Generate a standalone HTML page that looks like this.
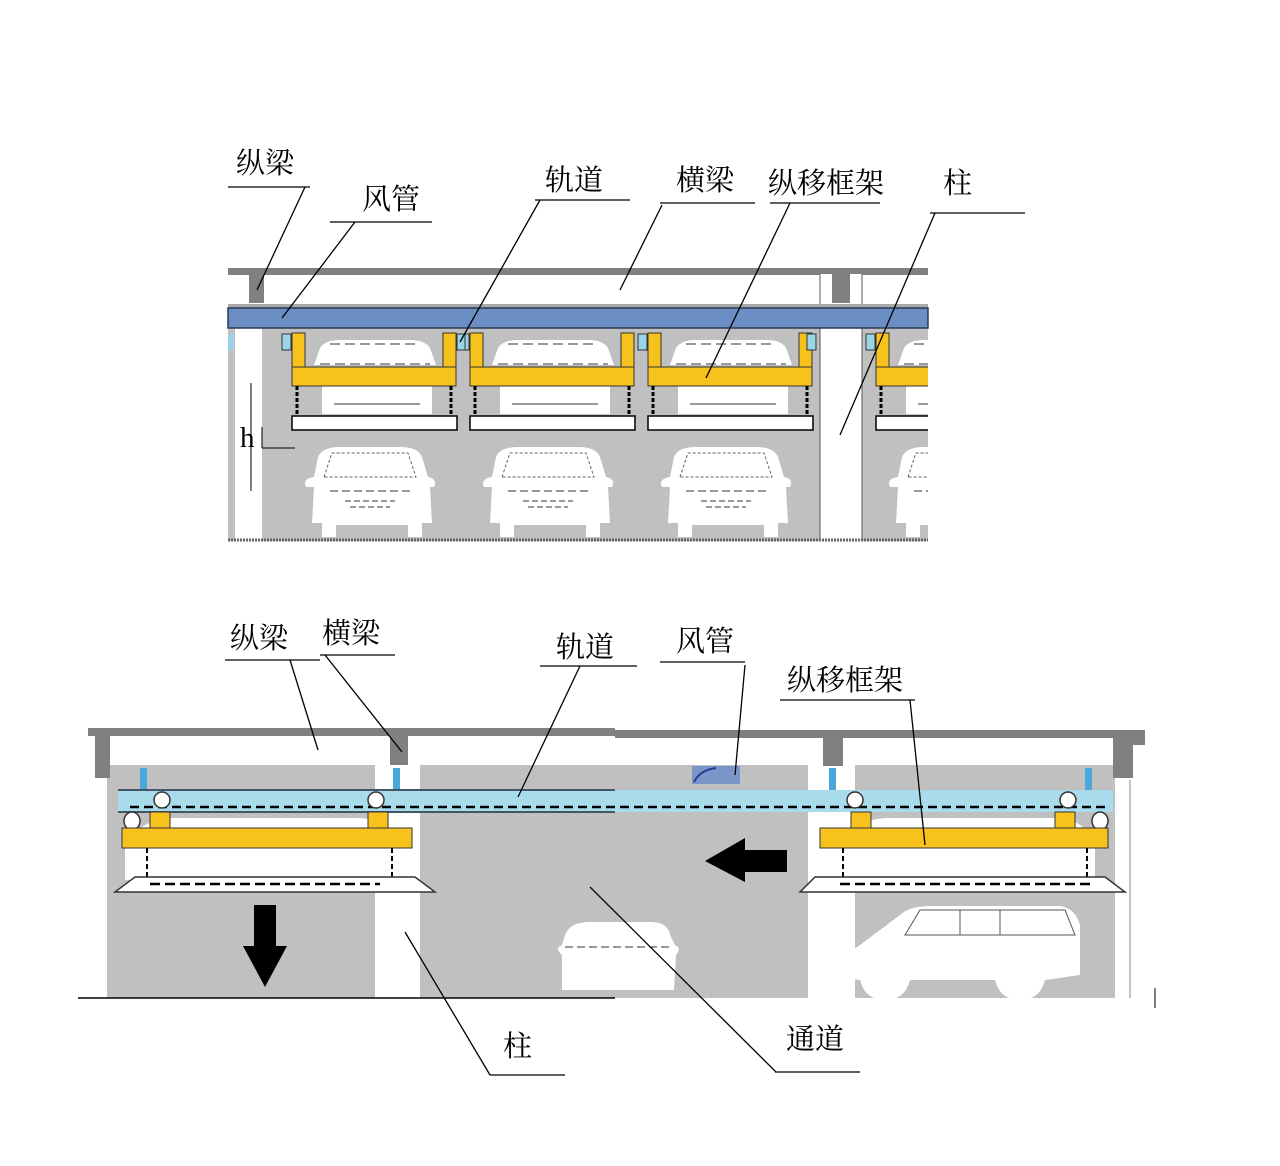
<!DOCTYPE html>
<html><head><meta charset="utf-8"><style>html,body{margin:0;padding:0;background:#fff}svg{display:block}
text{font-family:"Liberation Serif","Noto Serif CJK SC","Noto Sans CJK SC",serif;font-size:29px;fill:#000}</style></head>
<body>
<svg width="1280" height="1166" viewBox="0 0 1280 1166" xmlns="http://www.w3.org/2000/svg">
<defs>
<g id="carF">
<path d="M8,10 Q12,0 30,0 L90,0 Q108,0 112,10 L118,30 Q128,32 124,40 L120,40 L122,76 L112,76 L112,90 L98,90 L98,78 L26,78 L26,90 L12,90 L12,76 L2,76 L4,40 L-4,40 Q-8,32 4,30 Z" fill="#fff"/>
<path d="M14,30 L22,6 L98,6 L106,30 Z" fill="none" stroke="#666" stroke-width="1" stroke-dasharray="3,2"/>
<path d="M20,44 L100,44" stroke="#333" stroke-dasharray="8,4"/>
<path d="M35,54 L85,54 M40,60 L80,60" stroke="#333" stroke-dasharray="6,3"/>
</g>
<g id="carR">
<path d="M10,8 Q15,0 30,0 L100,0 Q115,0 120,8 L126,25 L4,25 Z" fill="#fff"/>
<path d="M20,4 L110,4" stroke="#333" stroke-dasharray="10,5"/>
<path d="M10,24 L120,24" stroke="#333" stroke-dasharray="10,5"/>
</g>
</defs>

<!-- ===== TOP DIAGRAM ===== -->
<rect x="228" y="305" width="700" height="236" fill="#c0c0c0"/>
<rect x="235" y="305" width="27" height="236" fill="#fff"/>
<rect x="228" y="274" width="700" height="33" fill="#fff"/>
<rect x="228" y="268" width="700" height="7" fill="#808080"/>
<rect x="249" y="274" width="15" height="29" fill="#808080"/>
<rect x="820" y="274" width="42" height="267" fill="#fff"/>
<line x1="820" y1="274" x2="820" y2="541" stroke="#555"/>
<line x1="862" y1="274" x2="862" y2="541" stroke="#555"/>
<rect x="832" y="274" width="18" height="29" fill="#808080"/>
<rect x="228" y="304" width="700" height="4" fill="#aaa"/>
<rect x="228" y="308" width="700" height="20" fill="#6b8fc2" stroke="#2a3a55" stroke-width="1.5"/>
<rect x="228" y="334" width="6" height="16" fill="#9ad4e6"/>
<line x1="228" y1="540" x2="928" y2="540" stroke="#666" stroke-width="3" stroke-dasharray="2,1"/>

<g id="unitT">
<use href="#carR" x="310" y="340"/>
<rect x="322" y="384" width="110" height="30" fill="#fff"/>
<line x1="334" y1="404" x2="420" y2="404" stroke="#333"/>
<rect x="282" y="334" width="9" height="16" fill="#9ad4e6" stroke="#333"/>
<rect x="292" y="333" width="13" height="52" fill="#f7c21b" stroke="#333"/>
<rect x="443" y="333" width="13" height="52" fill="#f7c21b" stroke="#333"/>
<rect x="292" y="367" width="164" height="19" fill="#f7c21b" stroke="#333"/>
<line x1="297" y1="386" x2="297" y2="416" stroke="#000" stroke-width="3" stroke-dasharray="4,2"/>
<line x1="451" y1="386" x2="451" y2="416" stroke="#000" stroke-width="3" stroke-dasharray="4,2"/>
<rect x="292" y="416" width="165" height="14" fill="#fff" stroke="#000" stroke-width="1.5"/>
<use href="#carF" x="310" y="447"/>
</g>
<use href="#unitT" x="178"/>
<use href="#unitT" x="356"/>
<g clip-path="url(#cp1)">
<use href="#unitT" x="584"/>
</g>
<clipPath id="cp1"><rect x="864" y="300" width="64" height="240"/></clipPath>
<rect x="457" y="334" width="8" height="16" fill="#9ad4e6" stroke="#333"/>
<rect x="807" y="334" width="9" height="16" fill="#9ad4e6" stroke="#333"/>

<line x1="251" y1="383" x2="251" y2="491" stroke="#000"/>
<line x1="262" y1="427" x2="262" y2="448" stroke="#000"/>
<line x1="262" y1="448" x2="295" y2="448" stroke="#000"/>
<text x="240" y="447" font-size="26">h</text>

<!-- top labels -->
<g stroke="#000" stroke-width="1.3" fill="none">
<path d="M228,187 L310,187 M305,187 L257,290"/>
<path d="M330,222 L432,222 M355,222 L282,318"/>
<path d="M535,200 L630,200 M540,200 L460,342"/>
<path d="M660,203 L755,203 M662,205 L620,290"/>
<path d="M770,203 L880,203 M790,203 L706,378"/>
<path d="M930,213 L1025,213 M935,213 L840,435"/>
</g>
<text x="236" y="173">纵梁</text>
<text x="362" y="209">风管</text>
<text x="545" y="190">轨道</text>
<text x="676" y="190">横梁</text>
<text x="768" y="193">纵移框架</text>
<text x="943" y="193">柱</text>

<!-- ===== BOTTOM DIAGRAM ===== -->
<rect x="107" y="765" width="1008" height="233" fill="#c0c0c0"/>
<rect x="375" y="735" width="45" height="263" fill="#fff"/>
<rect x="808" y="738" width="47" height="260" fill="#fff"/>
<rect x="110" y="735" width="505" height="30" fill="#fff"/>
<rect x="615" y="738" width="500" height="27" fill="#fff"/>
<rect x="88" y="728" width="527" height="8" fill="#808080"/>
<rect x="615" y="730" width="530" height="8" fill="#808080"/>
<path d="M88,728 L110,728 L110,778 L95,778 L95,736 L88,736 Z" fill="#808080"/>
<rect x="390" y="735" width="18" height="30" fill="#808080"/>
<rect x="823" y="738" width="20" height="28" fill="#808080"/>
<path d="M1113,738 L1145,738 L1145,745 L1133,745 L1133,778 L1113,778 Z" fill="#808080"/>
<rect x="692" y="766" width="48" height="18" fill="#7a95c8"/>
<path d="M694,782 Q700,770 716,768" stroke="#2a3a99" fill="none" stroke-width="2"/>
<rect x="140" y="768" width="7" height="22" fill="#4aa8d8"/>
<rect x="393" y="768" width="7" height="22" fill="#4aa8d8"/>
<rect x="829" y="768" width="7" height="22" fill="#4aa8d8"/>
<rect x="1085" y="768" width="7" height="22" fill="#4aa8d8"/>

<!-- cars behind -->
<path d="M125,880 L125,845 Q140,820 170,818 L360,818 Q390,820 400,845 L400,880 Z" fill="#fff"/>
<path d="M840,880 L840,845 Q855,820 885,818 L1060,818 Q1085,820 1095,845 L1095,880 Z" fill="#fff"/>

<rect x="118" y="790" width="995" height="22" fill="#a8dcec"/>
<line x1="118" y1="790" x2="615" y2="790" stroke="#456" stroke-width="2"/>
<line x1="118" y1="812" x2="615" y2="812" stroke="#456" stroke-width="2"/>
<line x1="130" y1="807" x2="1105" y2="807" stroke="#000" stroke-width="2.5" stroke-dasharray="9,5"/>
<g fill="#fff" stroke="#333" stroke-width="1.5">
<circle cx="162" cy="800" r="8"/><circle cx="376" cy="800" r="8"/>
<circle cx="855" cy="800" r="8"/><circle cx="1068" cy="800" r="8"/>
<ellipse cx="132" cy="821" rx="8" ry="9"/><ellipse cx="1100" cy="821" rx="8" ry="9"/>
</g>
<!-- left frame -->
<g fill="#f7c21b" stroke="#333">
<rect x="150" y="812" width="20" height="20"/><rect x="368" y="812" width="20" height="20"/>
<rect x="122" y="828" width="290" height="20"/>
<rect x="851" y="812" width="20" height="20"/><rect x="1055" y="812" width="20" height="20"/>
<rect x="820" y="828" width="288" height="20"/>
</g>
<g stroke="#000" stroke-width="2" stroke-dasharray="5,3">
<line x1="147" y1="848" x2="147" y2="880"/><line x1="392" y1="848" x2="392" y2="880"/>
<line x1="843" y1="848" x2="843" y2="880"/><line x1="1087" y1="848" x2="1087" y2="880"/>
</g>
<path d="M135,877 L415,877 L435,892 L115,892 Z" fill="#fff" stroke="#333" stroke-width="1.5"/>
<line x1="150" y1="884" x2="380" y2="884" stroke="#000" stroke-width="2.5" stroke-dasharray="10,5"/>
<path d="M815,877 L1105,877 L1125,892 L800,892 Z" fill="#fff" stroke="#333" stroke-width="1.5"/>
<line x1="840" y1="884" x2="1090" y2="884" stroke="#000" stroke-width="2.5" stroke-dasharray="10,5"/>

<!-- arrows -->
<path d="M254,905 L276,905 L276,946 L287,946 L265,987 L243,946 L254,946 Z" fill="#000"/>
<path d="M787,850 L787,872 L745,872 L745,882 L705,861 L745,838 L745,850 Z" fill="#000"/>

<!-- small car -->
<path d="M565,935 Q570,922 590,922 L650,922 Q668,922 670,935 L675,945 Q682,948 676,955 L674,990 L562,990 L562,955 Q554,948 562,945 Z" fill="#fff"/>
<path d="M565,947 L670,947" stroke="#333" stroke-dasharray="8,4"/>
<!-- side car -->
<path d="M860,945 L900,915 Q910,906 930,906 L1060,906 Q1075,908 1080,925 L1080,975 L1045,980 Q1040,1000 1020,1000 Q1000,1000 995,980 L910,980 Q905,1000 885,1000 Q865,1000 860,980 L845,978 L845,955 Z" fill="#fff"/>
<path d="M905,935 L920,910 L1065,910 L1075,935 Z" fill="none" stroke="#555"/>
<line x1="960" y1="910" x2="960" y2="935" stroke="#555"/><line x1="1000" y1="910" x2="1000" y2="935" stroke="#555"/>

<line x1="78" y1="998" x2="615" y2="998" stroke="#000" stroke-width="1.5"/>
<line x1="1130" y1="780" x2="1130" y2="998" stroke="#888"/>
<line x1="1155" y1="988" x2="1155" y2="1008" stroke="#000"/>

<!-- bottom labels -->
<g stroke="#000" stroke-width="1.3" fill="none">
<path d="M225,660 L320,660 M290,660 L318,750"/>
<path d="M320,655 L395,655 M325,655 L402,752"/>
<path d="M540,666 L637,666 M580,666 L518,797"/>
<path d="M660,662 L745,662 M745,665 L735,775"/>
<path d="M780,700 L915,700 M910,700 L925,845"/>
<path d="M490,1075 L565,1075 M490,1075 L405,932"/>
<path d="M775,1072 L860,1072 M776,1072 L590,887"/>
</g>
<text x="230" y="648">纵梁</text>
<text x="322" y="643">横梁</text>
<text x="556" y="657">轨道</text>
<text x="676" y="651">风管</text>
<text x="787" y="690">纵移框架</text>
<text x="503" y="1056">柱</text>
<text x="786" y="1049">通道</text>
</svg>
</body></html>
